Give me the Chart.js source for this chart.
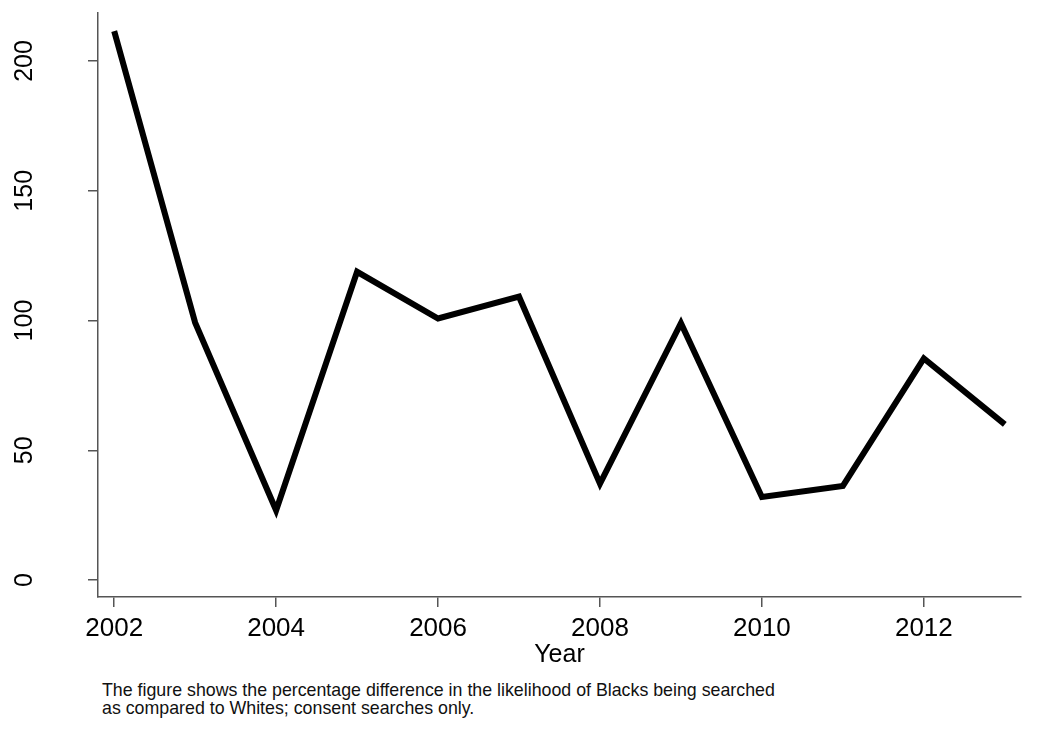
<!DOCTYPE html>
<html>
<head>
<meta charset="utf-8">
<script src="https://cdn.jsdelivr.net/npm/chart.js"></script>
<style>
  body { margin: 0; background: #fff; }
  #wrap { position: relative; width: 1041px; height: 734px; }
  #myChart { position: absolute; left: 0; top: 0; }
  #caption {
    position: absolute; left: 102px; top: 681px;
    font-family: "Liberation Sans", Arial, sans-serif;
    font-size: 17.8px; line-height: 18px; color: #111;
  }
</style>
</head>
<body>
<div id="wrap">
  <div style="position:absolute;left:0;top:0;width:1041px;height:673px;">
    <canvas id="myChart"></canvas>
  </div>
  <div id="caption">The figure shows the percentage difference in the likelihood of Blacks being searched<br>as compared to Whites; consent searches only.</div>
</div>

<script>
  // data
  const years = [2002, 2003, 2004, 2005, 2006, 2007, 2008, 2009, 2010, 2011, 2012, 2013];
  const pctDifference = [211.5, 99.2, 26.9, 118.8, 100.8, 109.2, 37.2, 99.0, 32.0, 36.3, 85.4, 60.0];
  const xTickValues = [2002, 2004, 2006, 2008, 2010, 2012];
  const yTickValues = [0, 50, 100, 150, 200];

  const points = years.map((y, i) => ({ x: y, y: pctDifference[i] }));

  const axisColor = '#555';
  const fontFamily = '"Liberation Sans", Arial, sans-serif';

  // rotated y tick labels (Stata style, reading bottom to top)
  const rotatedYLabels = {
    id: 'rotatedYLabels',
    afterDraw(chart) {
      const ctx = chart.ctx;
      const yScale = chart.scales.y;
      ctx.save();
      ctx.fillStyle = '#000';
      ctx.font = '25px ' + fontFamily;
      ctx.textAlign = 'center';
      ctx.textBaseline = 'alphabetic';
      yScale.ticks.forEach(t => {
        const py = yScale.getPixelForValue(t.value);
        ctx.save();
        ctx.translate(32, py);
        ctx.rotate(-Math.PI / 2);
        ctx.fillText(String(t.value), 0, 0);
        ctx.restore();
      });
      ctx.restore();
    }
  };

  const ctx = document.getElementById('myChart');

  new Chart(ctx, {
    type: 'line',
    data: {
      datasets: [{
        data: points,
        borderColor: '#000',
        borderWidth: 6,
        pointRadius: 0,
        tension: 0,
        fill: false
      }]
    },
    options: {
      responsive: true,
      maintainAspectRatio: false,
      animation: false,
      layout: { padding: { left: 0, top: 13, right: 20, bottom: 0 } },
      plugins: {
        legend: { display: false },
        tooltip: { enabled: false }
      },
      scales: {
        x: {
          type: 'linear',
          min: 2001.8,
          max: 2013.2,
          afterBuildTicks: (scale) => { scale.ticks = xTickValues.map(v => ({ value: v })); },
          afterFit: (scale) => { scale.height = 76; },
          border: { color: axisColor, width: 1.5 },
          grid: { drawOnChartArea: false, color: axisColor, tickLength: 10, lineWidth: 1.5 },
          ticks: {
            color: '#000',
            font: { family: fontFamily, size: 26 },
            padding: 6,
            maxRotation: 0,
            callback: (v) => String(v)
          },
          title: {
            display: true,
            text: 'Year',
            color: '#000',
            font: { family: fontFamily, size: 25 },
            padding: { top: 0, bottom: 3 }
          }
        },
        y: {
          min: -6.5,
          max: 218.5,
          afterBuildTicks: (scale) => { scale.ticks = yTickValues.map(v => ({ value: v })); },
          afterFit: (scale) => { scale.width = 98; },
          border: { color: axisColor, width: 1.5 },
          grid: { drawOnChartArea: false, color: axisColor, tickLength: 10, lineWidth: 1.5 },
          ticks: { display: false }
        }
      }
    },
    plugins: [rotatedYLabels]
  });
</script>
</body>
</html>
